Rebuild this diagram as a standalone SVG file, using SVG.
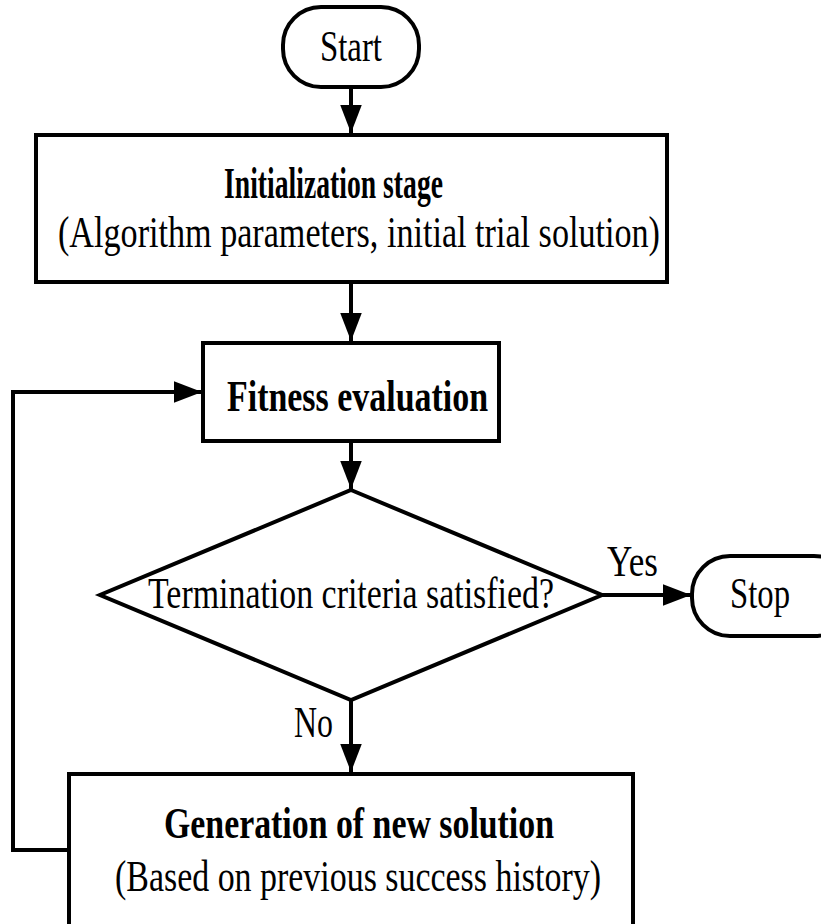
<svg xmlns="http://www.w3.org/2000/svg" width="821" height="924" viewBox="0 0 821 924">
<style>
.box{fill:#fff;stroke:#000;stroke-width:4;}
.ln{fill:none;stroke:#000;stroke-width:4;}
.t{font-family:"Liberation Serif","Times New Roman",serif;font-size:45px;fill:#000;}
.b{font-weight:bold;}
</style>
<defs>
<marker id="ah" markerUnits="userSpaceOnUse" markerWidth="28" markerHeight="22" viewBox="0 0 26 20" refX="26" refY="10" orient="auto">
<path d="M0,0 L26,10 L0,20 z" fill="#000"/>
</marker>
</defs>
<rect width="821" height="924" fill="#fff"/>
<g id="connectors">
<line class="ln" x1="351" y1="87" x2="351" y2="133" marker-end="url(#ah)"/>
<line class="ln" x1="351" y1="282" x2="351" y2="341" marker-end="url(#ah)"/>
<line class="ln" x1="351" y1="441" x2="351" y2="489" marker-end="url(#ah)"/>
<line class="ln" x1="602" y1="595" x2="691" y2="595" marker-end="url(#ah)"/>
<line class="ln" x1="351" y1="700" x2="351" y2="772" marker-end="url(#ah)"/>
<path class="ln" d="M69,850 H13 V392 H202" marker-end="url(#ah)"/>
<text class="t" x="607" y="576" textLength="51" lengthAdjust="spacingAndGlyphs">Yes</text>
<text class="t" x="294" y="737" textLength="39" lengthAdjust="spacingAndGlyphs">No</text>
</g>
<g id="start">
<rect class="box" x="283" y="7" width="136" height="80" rx="38" ry="38"/>
<text class="t" x="320" y="61" textLength="62" lengthAdjust="spacingAndGlyphs">Start</text>
</g>
<g id="init">
<rect class="box" x="36" y="135" width="631" height="147"/>
<text class="t b" x="224" y="198" font-size="47" textLength="219" lengthAdjust="spacingAndGlyphs">Initialization stage</text>
<text class="t" x="58" y="247" textLength="602" lengthAdjust="spacingAndGlyphs">(Algorithm parameters, initial trial solution)</text>
</g>
<g id="fitness">
<rect class="box" x="203" y="343" width="296" height="98"/>
<text class="t b" x="227" y="411" font-size="52" textLength="261" lengthAdjust="spacingAndGlyphs">Fitness evaluation</text>
</g>
<g id="decision">
<polygon class="box" points="351,490 602,595 351,700 100,595"/>
<text class="t" x="148" y="608" textLength="406" lengthAdjust="spacingAndGlyphs">Termination criteria satisfied?</text>
</g>
<g id="stop">
<rect class="box" x="692" y="556" width="160" height="80" rx="38" ry="38"/>
<text class="t" x="730" y="608" textLength="60" lengthAdjust="spacingAndGlyphs">Stop</text>
</g>
<g id="generation">
<rect class="box" x="69" y="774" width="564" height="170"/>
<text class="t b" x="164" y="838" font-size="47" textLength="390" lengthAdjust="spacingAndGlyphs">Generation of new solution</text>
<text class="t" x="115" y="891" textLength="486" lengthAdjust="spacingAndGlyphs">(Based on previous success history)</text>
</g>
</svg>
